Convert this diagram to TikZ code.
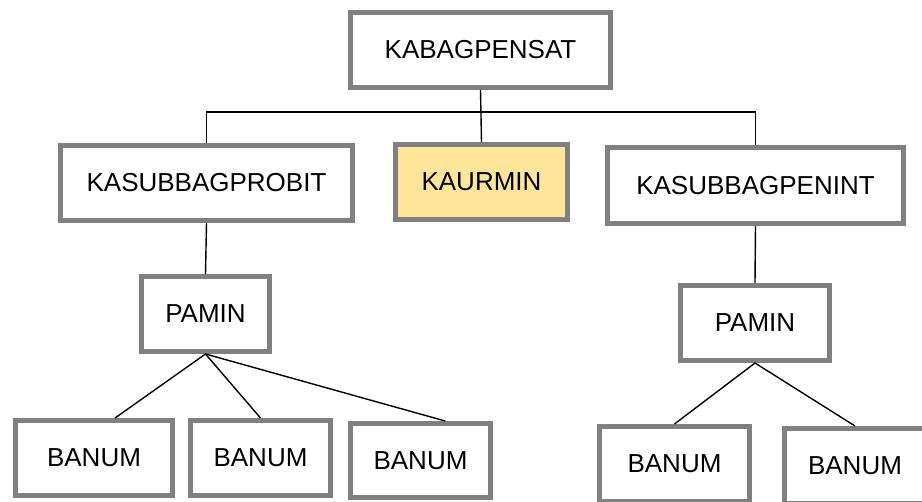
\documentclass[tikz,border=0pt]{standalone}
\usepackage{fontspec}
\setmainfont{Liberation Sans}
\usetikzlibrary{calc}
\definecolor{boxgray}{RGB}{128,128,128}
\definecolor{kyellow}{RGB}{255,229,153}
\tikzset{
  orgbox/.style={draw=boxgray, line width=5pt, fill=white, inner sep=0pt,
    font=\fontsize{26}{30}\selectfont, text=black},
  conn/.style={draw=black, line width=1.4pt}
}
\begin{document}
\begin{tikzpicture}[x=1pt,y=-1pt]
\useasboundingbox (0,0) rectangle (922,502);
\clip (0,0) rectangle (922,502);
\fill[white] (0,0) rectangle (922,502);
% nodes (sizes = outer size minus line width)
\node[orgbox, minimum width=260pt, minimum height=75pt] (top) at (480.5,50) {KABAGPENSAT};
\node[orgbox, fill=kyellow, minimum width=172pt, minimum height=75pt] (kaurmin) at (481.5,182) {KAURMIN};
\node[orgbox, minimum width=292pt, minimum height=75pt] (probit) at (206.5,183) {KASUBBAGPROBIT};
\node[orgbox, minimum width=296pt, minimum height=76pt] (penint) at (755.5,185.5) {KASUBBAGPENINT};
\node[orgbox, minimum width=128pt, minimum height=75pt] (paminL) at (205.5,314) {PAMIN};
\node[orgbox, minimum width=149pt, minimum height=75pt] (paminR) at (755,323) {PAMIN};
\node[orgbox, minimum width=157pt, minimum height=75pt] (b1) at (94,458) {BANUM};
\node[orgbox, minimum width=140pt, minimum height=75pt] (b2) at (260.5,458) {BANUM};
\node[orgbox, minimum width=140pt, minimum height=74pt] (b3) at (420.5,460.5) {BANUM};
\node[orgbox, minimum width=150pt, minimum height=75pt] (b4) at (674.5,464) {BANUM};
\node[orgbox, minimum width=141pt, minimum height=75pt] (b5) at (855,466) {BANUM};
% connectors
\coordinate (bar) at (481,112);
\draw[conn] (top.south) -- (kaurmin.north);
\draw[conn] (probit.north) |- (bar) -| (penint.north);
\draw[conn] (probit.south) -- (paminL.north);
\draw[conn] (penint.south) -- (paminR.north);
\draw[conn] ($(b1.north west)!0.63!(b1.north east)$) -- (paminL.south) -- (b2.north);
\draw[conn] (paminL.south) -- ($(b3.north west)!0.67!(b3.north east)$);
\draw[conn] (b4.north) -- (paminR.south) -- (b5.north);
\end{tikzpicture}
\end{document}
